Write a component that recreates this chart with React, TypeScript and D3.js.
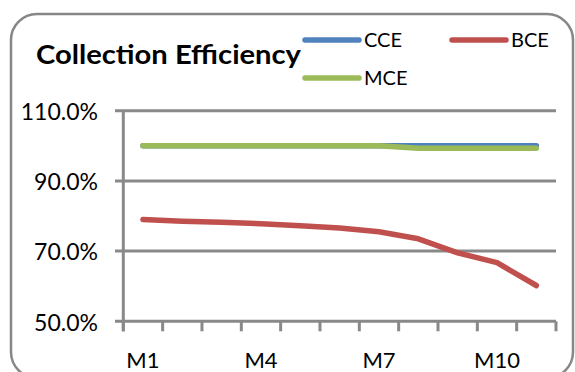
import React from "react";
import * as d3 from "d3";

const categories = ["M1", "M2", "M3", "M4", "M5", "M6", "M7", "M8", "M9", "M10", "M11"];
const cceValues = [1.0, 1.0, 1.0, 1.0, 1.0, 1.0, 1.0, 1.0, 1.0, 1.0, 1.0];
const bceValues = [0.79, 0.785, 0.782, 0.778, 0.772, 0.766, 0.755, 0.735, 0.695, 0.667, 0.602];
const mceValues = [1.0, 1.0, 1.0, 1.0, 1.0, 1.0, 1.0, 0.993, 0.993, 0.993, 0.993];
const yTicks = [0.5, 0.7, 0.9, 1.1];
const xLabelCats = ["M1", "M4", "M7", "M10"];

const series = [
  { name: "CCE", values: cceValues, color: "#4F81BD" },
  { name: "BCE", values: bceValues, color: "#C0504D" },
  { name: "MCE", values: mceValues, color: "#9BBB59" },
];

const W = 575;
const H = 372;
const FONT = "Lato, 'Open Sans', sans-serif";
const AXIS = "#898989";

export default function App() {
  const x = d3.scaleBand<string>().domain(categories).range([123.3, 556]).padding(0);
  const y = d3.scaleLinear().domain([0.5, 1.1]).range([321.3, 110.7]);
  const cx = (c: string) => (x(c) as number) + x.bandwidth() / 2;
  const line = d3
    .line<number>()
    .x((_, i) => cx(categories[i]))
    .y((v) => y(v));
  const fmt = d3.format(".1%");
  const tickXs = categories.map((c) => x(c) as number).concat([556]);

  return (
    <svg
      width={W}
      height={H}
      style={{ position: "absolute", left: 0, top: 0, background: "#fff" }}
    >
      <rect x={11} y={14} width={562} height={364} rx={26} ry={26} fill="#fff" stroke="#878787" strokeWidth={2.5} />
      <text
        x={36}
        y={63.5}
        fontFamily={FONT}
        fontWeight="bold"
        fontSize={26.5}
        fill="#000"
        textLength={265}
        lengthAdjust="spacingAndGlyphs"
      >
        Collection Efficiency
      </text>
      {/* gridlines */}
      {yTicks.map((t) => (
        <line key={"g" + t} x1={115} x2={556} y1={y(t)} y2={y(t)} stroke={AXIS} strokeWidth={3} />
      ))}
      {/* y axis */}
      <line x1={123.3} x2={123.3} y1={y(1.1)} y2={y(0.5) + 10} stroke={AXIS} strokeWidth={3} />
      {tickXs.map((tx, i) => (
        <line key={"t" + i} x1={tx} x2={tx} y1={y(0.5)} y2={y(0.5) + 10} stroke={AXIS} strokeWidth={3} />
      ))}
      {yTicks.map((t) => (
        <text key={"yl" + t} x={98} y={y(t)} dy="0.4em" textAnchor="end" fontFamily={FONT} fontSize={23} fill="#000">
          {fmt(t)}
        </text>
      ))}
      {xLabelCats.map((c) => (
        <text key={"xl" + c} x={cx(c)} y={367.5} textAnchor="middle" fontFamily={FONT} fontSize={22} fill="#000">
          {c}
        </text>
      ))}
      {series.map((s) => (
        <path
          key={s.name}
          d={line(s.values) as string}
          fill="none"
          stroke={s.color}
          strokeWidth={5.5}
          strokeLinecap="round"
          strokeLinejoin="round"
        />
      ))}
      {/* legend */}
      {[
        { s: series[0], lx: 305, ly: 40 },
        { s: series[1], lx: 452, ly: 40 },
        { s: series[2], lx: 305, ly: 78 },
      ].map(({ s, lx, ly }) => (
        <g key={"lg" + s.name}>
          <line x1={lx} x2={lx + 54} y1={ly} y2={ly} stroke={s.color} strokeWidth={5.5} strokeLinecap="round" />
          <text x={lx + 59} y={ly} dy="0.36em" fontFamily={FONT} fontSize={20} fill="#000">
            {s.name}
          </text>
        </g>
      ))}
    </svg>
  );
}
